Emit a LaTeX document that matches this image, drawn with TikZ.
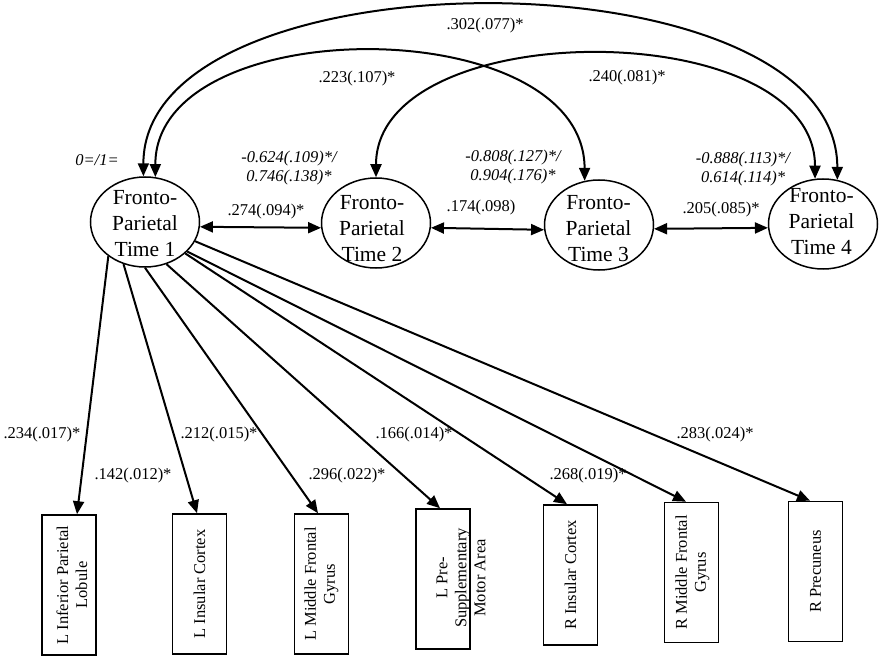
\documentclass[tikz,border=0pt]{standalone}
\usepackage{fontspec}
\setmainfont{Liberation Serif}
\usetikzlibrary{arrows.meta,shapes.geometric}
\tikzset{
  latent/.style={ellipse, draw, line width=1.5pt, minimum width=109pt, minimum height=90pt, inner sep=0pt},
  lattxt/.style={align=center, font=\fontsize{21.5}{26}\selectfont, inner sep=0pt},
  lbl/.style={font=\fontsize{16.5}{19}\selectfont, inner sep=0pt},
  ilbl/.style={font=\fontsize{16.5}{19}\selectfont\itshape, inner sep=0pt, align=center},
  obs/.style={draw, rectangle, line width=1.6pt, minimum width=54pt, minimum height=140pt, inner sep=0pt},
  obstxt/.style={rotate=90, align=center, font=\fontsize{16.5}{19}\selectfont, inner sep=0pt},
  tip/.tip={Triangle[length=13pt,width=11pt]},
  arr/.style={line width=2pt, -{tip}},
  darr/.style={line width=2pt, {tip}-{tip}}
}
\begin{document}
\begin{tikzpicture}[x=1pt,y=-1pt]
\useasboundingbox (0,0) rectangle (883,660);

% latent factors
\node[latent] (T1) at (145,222) {};
\node[latent] (T2) at (376,223) {};
\node[latent] (T3) at (599,225) {};
\node[latent] (T4) at (823,224) {};
\node[lattxt] (T1t) at (145,224) {Fronto-\\Parietal\\Time 1};
\node[lattxt] (T2t) at (372,229) {Fronto-\\Parietal\\Time 2};
\node[lattxt] (T3t) at (598.5,229) {Fronto-\\Parietal\\Time 3};
\node[lattxt] (T4t) at (821.5,222) {Fronto-\\Parietal\\Time 4};

% observed boxes
\node[obs] (B1) at (69,585) {};
\node[obs] (B2) at (199.5,584) {};
\node[obs] (B3) at (321.5,584) {};
\node[obs] (B4) at (443,579) {};
\node[obs] (B5) at (570.5,575) {};
\node[obs] (B6) at (691.5,572.5) {};
\node[obs] (B7) at (815.5,571.5) {};
\node[obstxt] (B1t) at (72,585) {L Inferior Parietal\\Lobule};
\node[obstxt] (B2t) at (199.5,584) {L Insular Cortex};
\node[obstxt] (B3t) at (321.5,584) {L Middle Frontal\\Gyrus};
\node[obstxt] (B4t) at (461,578) {L Pre-\\Supplementary\\Motor Area};
\node[obstxt] (B5t) at (570.5,575) {R Insular Cortex};
\node[obstxt] (B6t) at (692.5,572.5) {R Middle Frontal\\Gyrus};
\node[obstxt] (B7t) at (815.5,571.5) {R Precuneus};

% loadings
\draw[arr] (T1.223) -- ([xshift=8pt]B1.north);
\draw[arr] (T1.243) -- ([xshift=-2.5pt]B2.north);
\draw[arr] (T1.270) -- ([xshift=-3.5pt]B3.north);
\draw[arr] (T1.297) -- ([xshift=-3pt]B4.north);
\draw[arr] (T1.322) -- ([xshift=-3.5pt]B5.north);
\draw[arr] (T1.325) -- ([xshift=-5.5pt]B6.north);
\draw[arr] (T1.339) -- ([xshift=-5.5pt]B7.north);

% adjacent covariances
\draw[darr] (T1.-5) -- (T2.185);
\draw[darr] (T2.-5) -- (T3.185);
\draw[darr] (T3.-4) -- (T4.184);

% long covariances
\draw[darr] (T1.92.6) .. controls (143,-51) and (837,-51) .. (T4.72.3);
\draw[darr] (T1.77.2) .. controls (155,10) and (584,10) .. (T3.108.8);
\draw[darr] (T2.90) .. controls (376,14) and (815,14) .. (T4.100.3);

% labels
\node[lbl] (l302) at (485,26) {.302(.077)*};
\node[lbl] (l223) at (357,79) {.223(.107)*};
\node[lbl] (l240) at (627,78) {.240(.081)*};
\node[ilbl] (l01) at (97,160) {0=/1=};
\node[ilbl] (m2) at (289,168) {-0.624(.109)*/\\0.746(.138)*};
\node[ilbl] (m3) at (513,167) {-0.808(.127)*/\\0.904(.176)*};
\node[ilbl] (m4) at (743,169) {-0.888(.113)*/\\0.614(.114)*};
\node[lbl] (l274) at (266,212) {.274(.094)*};
\node[lbl] (l174) at (481,208) {.174(.098)};
\node[lbl] (l205) at (721,210) {.205(.085)*};

\node[lbl] (f1) at (42,435) {.234(.017)*};
\node[lbl] (f2) at (133,476) {.142(.012)*};
\node[lbl] (f3) at (219,435) {.212(.015)*};
\node[lbl] (f4) at (347,476) {.296(.022)*};
\node[lbl] (f5) at (414,435) {.166(.014)*};
\node[lbl] (f6) at (588,476) {.268(.019)*};
\node[lbl] (f7) at (715,435) {.283(.024)*};
\end{tikzpicture}
\end{document}
